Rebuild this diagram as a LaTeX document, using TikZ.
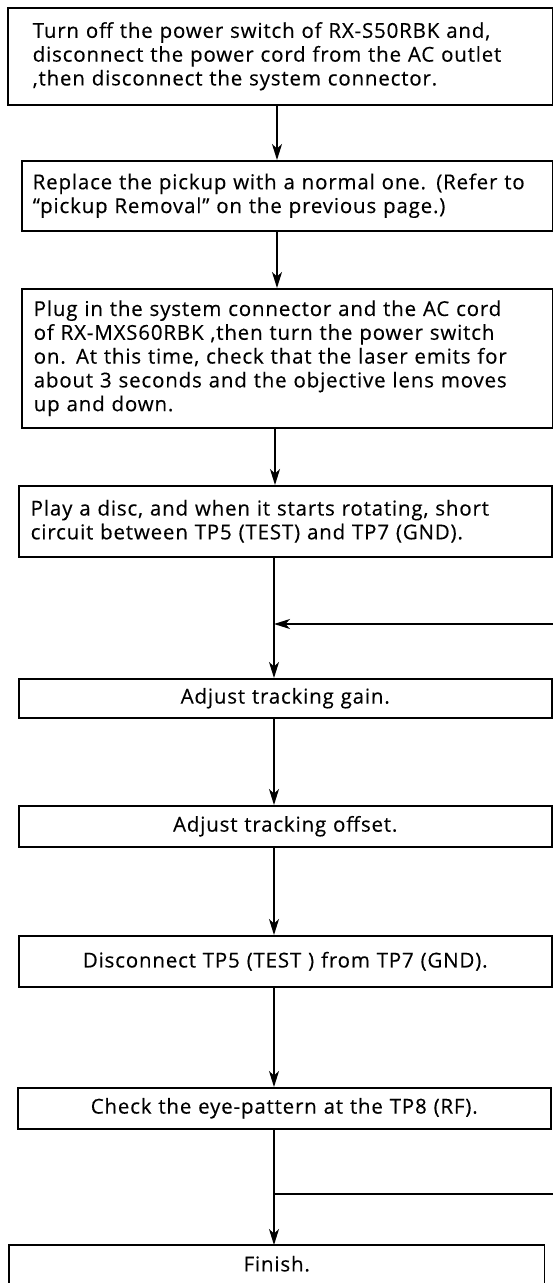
\documentclass[tikz,border=0pt]{standalone}
\usepackage{fontspec}
\setmainfont{Open Sans}[LetterSpace=4, WordSpace=1.3, FakeBold=0.3]
\usetikzlibrary{arrows.meta}
\begin{document}
\begin{tikzpicture}[x=1pt,y=-1pt,
  box/.style={draw, line width=1.5pt, anchor=north west, inner ysep=0pt, align=left,
    font=\fontsize{20.5}{23.8}\selectfont},
  cbox/.style={box, align=center},
  arr/.style={line width=1.5pt, -{Stealth[length=16pt,width=10pt,inset=4.5pt]}},
  ln/.style={line width=1.5pt}]
\useasboundingbox (0,0) rectangle (553,1283);
\clip (0,0) rectangle (553,1283);
\fill[white] (0,0) rectangle (553,1283);

\node[box, inner xsep=25pt, text width=495pt, minimum height=97pt] (b1) at (7,7)
  {Turn off the power switch of RX-S50RBK and,\\ disconnect the power cord from the AC outlet\\ ,then disconnect the system connector.};
\node[box, inner xsep=11pt, text width=509pt, minimum height=70pt] (b2) at (21,160)
  {Replace the pickup with a normal one. (Refer to\\ “pickup Removal” on the previous page.)};
\node[box, inner xsep=12pt, text width=507pt, minimum height=139pt] (b3) at (21,288)
  {Plug in the system connector and the AC cord\\ of RX-MXS60RBK ,then turn the power switch\\ on. At this time, check that the laser emits for\\ about 3 seconds and the objective lens moves\\ up and down.};
\node[box, inner xsep=12pt, text width=509pt, minimum height=71pt] (b4) at (18,485)
  {Play a disc, and when it starts rotating, short\\ circuit between TP5 (TEST) and TP7 (GND).};
\node[cbox, inner xsep=0pt, text width=533pt, minimum height=39pt] (b5) at (18,678)
  {Adjust tracking gain.};
\node[cbox, inner xsep=0pt, text width=533pt, minimum height=41pt] (b6) at (18,805)
  {Adjust tracking offset.};
\node[cbox, inner xsep=0pt, text width=533pt, minimum height=51pt] (b7) at (18,935)
  {Disconnect TP5 (TEST ) from TP7 (GND).};
\node[cbox, inner xsep=0pt, text width=533pt, minimum height=41pt] (b8) at (17,1087)
  {Check the eye-pattern at the TP8 (RF).};
\node[cbox, draw=none, inner xsep=0pt, text width=534pt, minimum height=36pt] (b9) at (9,1245)
  {Finish.};
\draw[ln] ([yshift=-60pt]b9.south west) -- (b9.north west) -- (b9.north east) -- ([yshift=-60pt]b9.south east);

\coordinate (xa) at (277,0);
\coordinate (xb) at (275,0);
\coordinate (xc) at (274,0);
\coordinate (loopin) at (555,624);
\coordinate (loopout) at (555,1194);

\draw[arr] (b1.south -| xa) -- (b2.north -| xa);
\draw[arr] (b2.south -| xa) -- (b3.north -| xa);
\draw[arr] (b3.south -| xb) -- (b4.north -| xb);
\draw[arr] (b4.south -| xc) -- (b5.north -| xc);
\draw[arr] (loopin) -- (loopin -| xc);
\draw[arr] (b5.south -| xc) -- (b6.north -| xc);
\draw[arr] (b6.south -| xc) -- (b7.north -| xc);
\draw[arr] (b7.south -| xc) -- (b8.north -| xc);
\draw[arr] (b8.south -| xc) -- (b9.north -| xc);
\draw[ln] (loopout -| xc) -- (loopout);
\end{tikzpicture}
\end{document}
